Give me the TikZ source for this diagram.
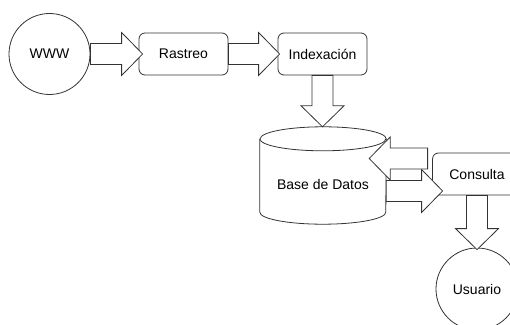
\documentclass[tikz,border=0pt]{standalone}
\usepackage{fontspec}
\setmainfont{Liberation Sans}
\usetikzlibrary{calc}

% hollow block arrow from a tail point to a tip point
\newcommand{\blockarrow}[2]{%
  \coordinate (ba-tail) at (#1);
  \coordinate (ba-tip) at (#2);
  \coordinate (ba-neck) at ($(ba-tip)!21pt!(ba-tail)$);
  \draw[blockarrow] ($(ba-tail)!10.5pt!90:(ba-tip)$)
    -- ($(ba-neck)!10.5pt!90:(ba-tip)$) -- ($(ba-neck)!21.5pt!90:(ba-tip)$)
    -- (ba-tip)
    -- ($(ba-neck)!21.5pt!-90:(ba-tip)$) -- ($(ba-neck)!10.5pt!-90:(ba-tip)$)
    -- ($(ba-tail)!10.5pt!-90:(ba-tip)$) -- cycle;}

\begin{document}
\begin{tikzpicture}[x=1pt, y=1pt, font=\fontsize{14}{17}\selectfont,
    outline/.style={draw=black!80, line width=0.8pt, fill=white},
    roundbox/.style={outline, rounded corners=6pt, minimum width=89pt, minimum height=42pt, inner sep=0pt},
    roundnode/.style={outline, circle, inner sep=0pt},
    blockarrow/.style={outline, line join=miter}]
    \useasboundingbox (0,0) rectangle (510,324);
    \clip (0,0) rectangle (510,324);

    \node[roundnode, minimum size=81pt] at (49.5,270) (www) {WWW};
    \node[roundbox] at (183.5,270) (rastreo) {Rastreo};
    \node[roundbox] at (322.5,270) (index) {Indexación};

    % database drum, text sits a bit below the middle
    \node[minimum width=126pt, minimum height=97pt, inner sep=0pt] at (323,148.5) (db) {};
    \draw[outline] ([yshift=-12pt]db.north west) -- ([yshift=12pt]db.south west)
        arc[start angle=180, end angle=360, x radius=63pt, y radius=12pt]
        -- ([yshift=-12pt]db.north east)
        arc[start angle=0, end angle=180, x radius=63pt, y radius=12pt];
    \draw[outline] ([yshift=-12pt]db.north west)
        arc[start angle=180, end angle=360, x radius=63pt, y radius=12pt];
    \node at ([yshift=-8.5pt]db.center) (dbtext) {Base de Datos};

    \node[roundbox] at (477,150) (consulta) {Consulta};
    \node[roundnode, minimum size=82pt] at (477,35) (usuario) {Usuario};

    \coordinate (q-out) at ([shift={(-4.5,15.5)}]consulta.west);
    \coordinate (q-in) at ([shift={(10.5,-17)}]consulta.west);

    \blockarrow{www.east}{[xshift=4pt]rastreo.west}
    \blockarrow{rastreo.east}{[xshift=2pt]index.west}
    \blockarrow{index.south}{index.south |- db.north}
    \blockarrow{db.east |- q-in}{q-in}
    \blockarrow{q-out}{$(db.east |- q-out)+(-17,0)$}
    \blockarrow{consulta.south}{[yshift=-2pt]usuario.north}
\end{tikzpicture}
\end{document}
